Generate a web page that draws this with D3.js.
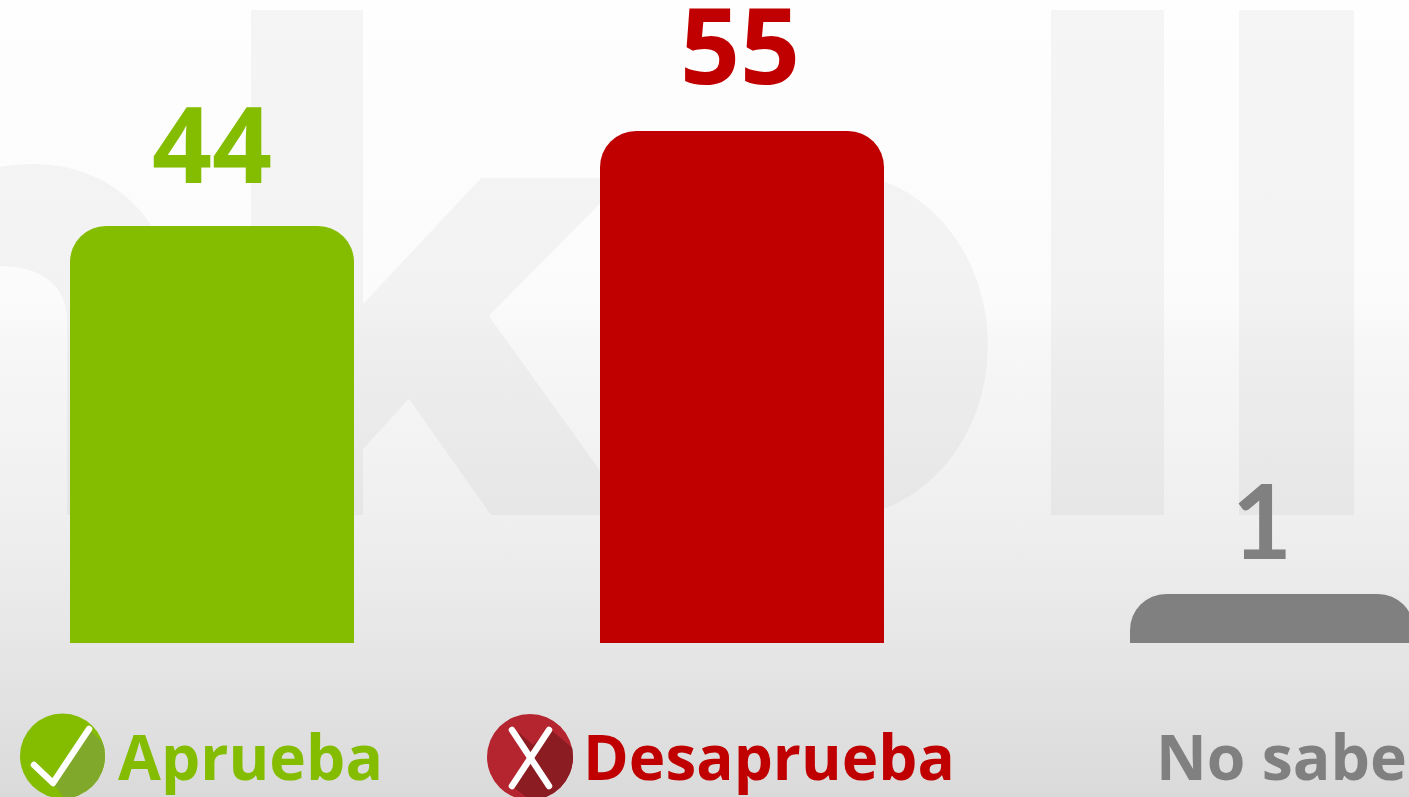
<!DOCTYPE html>
<html><head><meta charset="utf-8">
<script src="https://cdn.jsdelivr.net/npm/d3@7/dist/d3.min.js"></script>
<style>html,body{margin:0;padding:0;background:#fff;overflow:hidden}svg{display:block}text{font-family:"Open Sans",Lato,sans-serif;font-weight:700}</style>
</head><body><svg id="c" width="1409" height="797"></svg>
<script>
const categories = ["Aprueba", "Desaprueba", "No sabe"];
const values = [44, 55, 1];
const colors = ["#84bc00", "#c00000", "#808080"];
const W = 1409, H = 797, bandW = 284, R = 36, base = 643;

const svg = d3.select("#c");
const defs = svg.append("defs");
const bgGrad = defs.append("linearGradient").attr("id","bg").attr("x1",0).attr("x2",0).attr("y1",0).attr("y2",1);
[[0,"#fefefe"],[0.38,"#fbfbfb"],[0.43,"#f7f7f7"],[0.65,"#efefef"],[0.81,"#e6e6e6"],[1,"#dadada"]]
  .forEach(([o,c])=>bgGrad.append("stop").attr("offset",o).attr("stop-color",c));
svg.append("rect").attr("width",W).attr("height",H).attr("fill","url(#bg)");

// Watermark letters
const wm = svg.append("g").attr("fill","#000").attr("fill-opacity",0.035);
wm.append("path").attr("fill-rule","evenodd").attr("d",
  "M-60,515 V190 Q-20,164 33,164 C120,164 178,230 178,320 V515 H67 V320 C67,285 40,266 0,266 Q-30,266 -60,280 V515 Z");
wm.append("path").attr("d",
  "M251,10 H363 V304 L481,178 H625 L489,316 L632,515 H491 L409,399 L363,449 V515 H251 Z");
wm.append("path").attr("fill-rule","evenodd").attr("d",
  "M688,345 A150,172 0 1 0 988,345 A150,172 0 1 0 688,345 Z M793,345 A45,70 0 1 0 883,345 A45,70 0 1 0 793,345 Z");
wm.append("rect").attr("x",1051).attr("y",10).attr("width",113).attr("height",505);
wm.append("rect").attr("x",1239).attr("y",10).attr("width",115).attr("height",505);

// Scales
const xPos = d3.scalePoint().domain(categories).range([70,1130]);
const y = d3.scaleLinear().domain([-4.7,60]).rangeRound([base, base-64.7*8.57]);

const barPath = (x0,top,w,h,r)=>{
  const p=d3.path();
  p.moveTo(x0,top+h); p.lineTo(x0,top+r);
  p.arcTo(x0,top,x0+r,top,r); p.lineTo(x0+w-r,top);
  p.arcTo(x0+w,top,x0+w,top+r,r); p.lineTo(x0+w,top+h); p.closePath();
  return p.toString();
};
svg.append("g").selectAll("path").data(categories).join("path")
  .attr("d",(d,i)=>barPath(xPos(d),y(values[i]),bandW,base-y(values[i]),R))
  .attr("fill",(d,i)=>colors[i]);

// Value labels
const labelDx = [0,-2,-10], labelGap = [43,47,35];
svg.append("g").selectAll("text").data(categories).join("text")
  .attr("x",(d,i)=>xPos(d)+bandW/2+labelDx[i])
  .attr("y",(d,i)=>y(values[i])-labelGap[i])
  .attr("text-anchor","middle").attr("font-size",(d,i)=>i===2?104:105)
  .style("font-family",(d,i)=>i===2?"Lato":null)
  .attr("fill",(d,i)=>colors[i]).text((d,i)=>values[i]);

// Legend text: narrowed horizontally to the widths
const legendX = [118,583,1156], legendLen = [265,372,251];
svg.append("g").selectAll("text").data(categories).join("text")
  .attr("font-size",63).attr("fill",(d,i)=>colors[i]).text(d=>d)
  .attr("transform",function(d,i){
    const sx = legendLen[i]/this.getComputedTextLength();
    return `translate(${legendX[i]},780) scale(${sx},1)`;
  });

// Icons
const line = d3.line();
defs.append("clipPath").attr("id","c1").append("circle").attr("cx",62.5).attr("cy",756).attr("r",42.5);
defs.append("clipPath").attr("id","c2").append("circle").attr("cx",530).attr("cy",757).attr("r",43);
const i1 = svg.append("g");
i1.append("circle").attr("cx",62.5).attr("cy",756).attr("r",42.5).attr("fill","#84bc00");
i1.append("path").attr("clip-path","url(#c1)").attr("fill","#80a82a")
  .attr("d",line([[89,729],[53,783],[95,840],[140,780]])+"Z");
i1.append("path").attr("fill","none").attr("stroke","#fff").attr("stroke-width",6.5)
  .attr("stroke-linecap","round").attr("stroke-linejoin","round")
  .attr("d",line([[34,765],[53,783],[89,729]]));
const i2 = svg.append("g");
i2.append("circle").attr("cx",530).attr("cy",757).attr("r",43).attr("fill","#b52530");
i2.append("path").attr("clip-path","url(#c2)").attr("fill","#8a1c22")
  .attr("d",line([[517,731],[530.5,755],[512,786],[530,800],[560,850],[610,780],[550,729],[533,745]])+"Z");
i2.append("g").attr("stroke","#fff").attr("stroke-width",6.5).attr("stroke-linecap","round")
  .selectAll("path").data([[[512,730],[549,786]],[[549,730],[512,786]]]).join("path")
  .attr("d",d=>line(d));
</script></body></html>
